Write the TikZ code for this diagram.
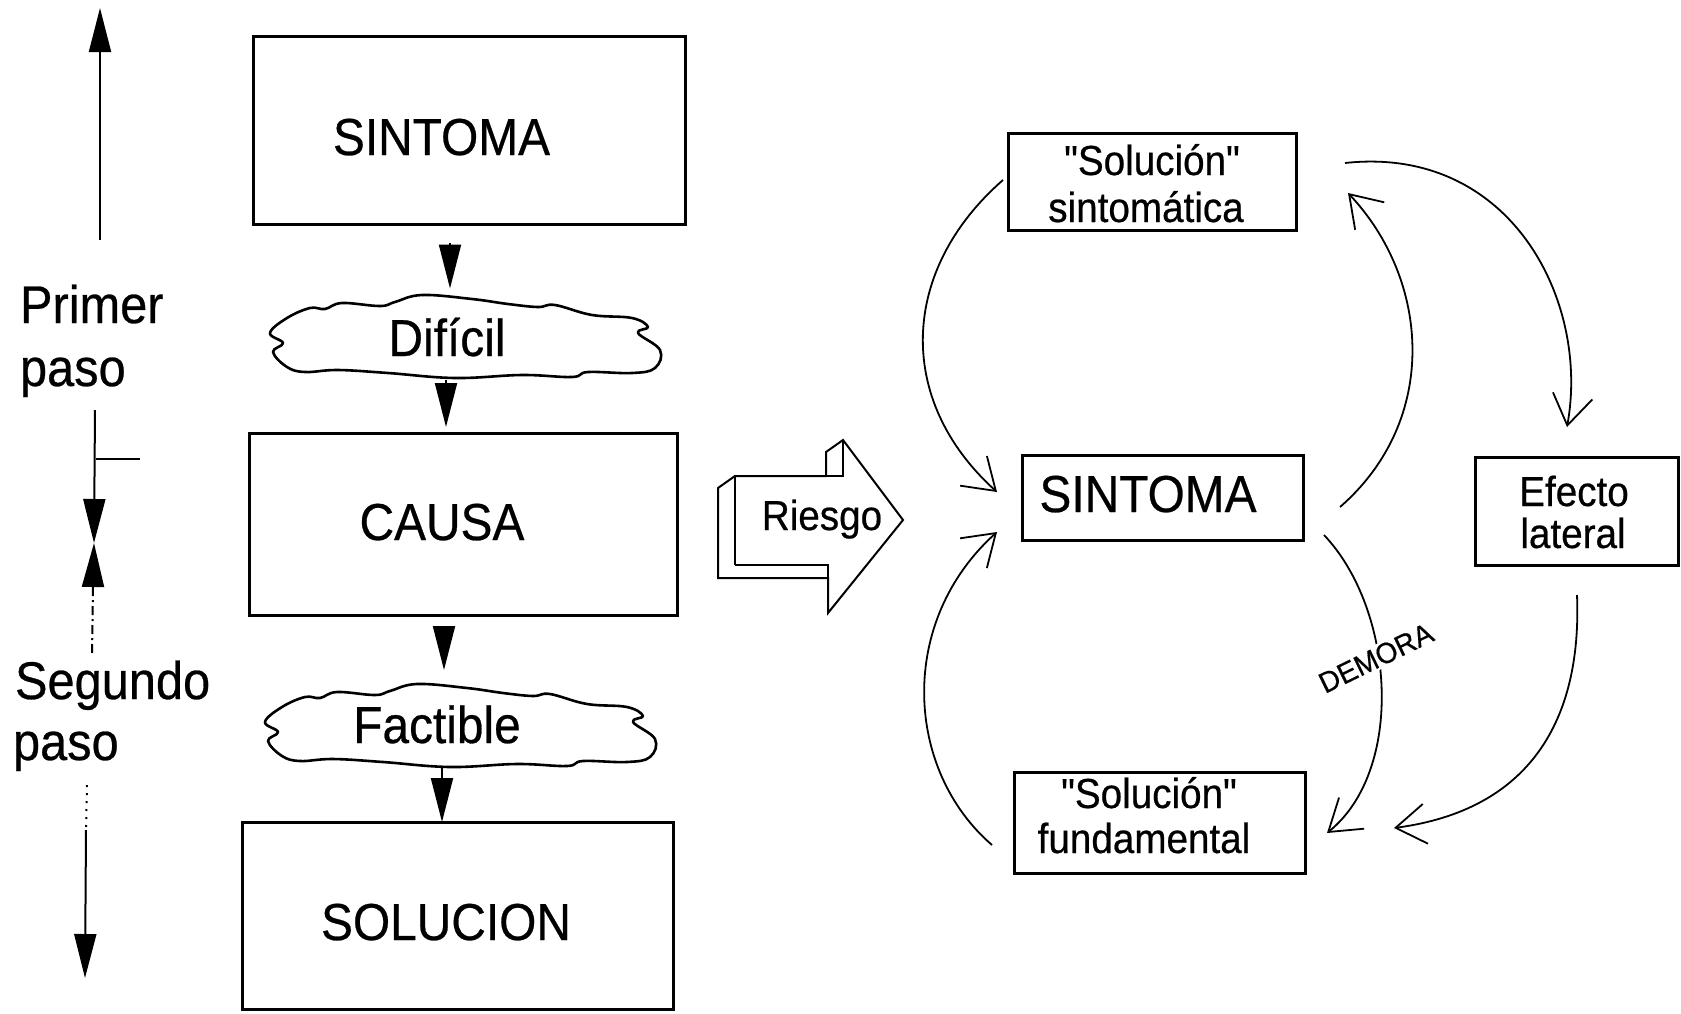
\documentclass[tikz,border=0pt]{standalone}
\usepackage{fontspec}
\usepackage{graphicx}
\setmainfont{Liberation Sans}[FakeStretch=0.92,FakeBold=0.5,Ligatures=TeXOff]
\usetikzlibrary{arrows.meta,calc}

\newcommand\fsBig{\fontsize{52}{60}\selectfont}
\newcommand\fsSide{\fontsize{53}{60}\selectfont}
\newcommand\fsMid{\fontsize{42}{50}\selectfont}
\newcommand\fsSmall{\fontsize{29}{34}\selectfont}

\begin{document}
\begin{tikzpicture}[x=1pt,y=-1pt,
  box/.style={draw,line width=3pt,inner sep=0pt,outer sep=0pt},
  hold/.style={inner sep=0pt,outer sep=0pt},
  txt/.style={inner sep=0pt,outer sep=0pt,anchor=base},
  lbl/.style={inner sep=0pt,outer sep=0pt,anchor=base west},
  tri/.style={line width=2pt,-{Triangle[length=44pt,width=22pt]}},
  axis/.style={line width=2pt},
  fb/.style={line width=1.8pt,-{Straight Barb[length=30pt,width=40pt]}},
  cloudline/.style={draw,line width=2.6pt,line join=round},
  block/.style={line width=2pt,line join=miter}]

\useasboundingbox (0,0) rectangle (1681,1013);

% ---------- left column: steps ----------
\node[box,minimum width=432pt,minimum height=188pt] (sintL) at (469,130) {};
\node[txt] (sintLt) at (441.5,155) {\fsBig SINTOMA};

\node[hold,minimum width=390pt,minimum height=83pt] (dif) at (465,336) {};
\node[hold,minimum width=395pt,minimum height=80pt] (fact) at (460,725) {};

\newcommand\puff{plot[smooth cycle,tension=0.65] coordinates {
  (-195,-3) (-178,-18) (-155,-28) (-140,-27) (-123,-33) (-85,-30) (-70,-34)
  (-43,-41) (7,-37) (43,-32) (73,-29) (90,-31) (127,-21) (167,-18) (183,-9)
  (173,-3) (195,14) (190,32) (167,37) (123,36) (107,41) (57,39) (-10,42)
  (-77,37) (-127,34) (-160,36) (-178,31) (-192,16) (-182,7)}}
\draw[cloudline,shift={(dif.center)}] \puff;
\draw[cloudline,shift={(fact.center)}] \puff;
\node[txt] (difT) at (447,356) {\fsBig Difícil};
\node[txt] (factT) at (437,743) {\fsBig Factible};

\node[box,minimum width=428pt,minimum height=182pt] (causa) at (463,524) {};
\node[txt] (causaT) at (442,540) {\fsBig CAUSA};

\node[box,minimum width=431pt,minimum height=187pt] (sol) at (457.5,915.5) {};
\node[txt] (solT) at (446,940) {\fsBig SOLUCION};

\draw[tri] ($(sintL.south)+(-19,19)$) -- ($(dif.north)+(-15,-6)$);
\draw[tri] ($(dif.south)+(-19,2.5)$) -- ($(causa.north)+(-17,-6)$);
\draw[tri] ($(causa.south)+(-19,12)$) -- ($(fact.north)+(-16,-15)$);
\draw[tri] ($(fact.south)+(-18,3)$) -- ($(sol.north)+(-15.5,0)$);

% ---------- left axis ----------
\node[lbl] (primer) at (20,323) {\fsSide Primer};
\node[lbl] (paso1) at (20,386) {\fsSide paso};
\node[lbl] (segundo) at (15,699) {\fsSide Segundo};
\node[lbl] (paso2) at (13,760) {\fsSide paso};

\coordinate (axTop) at (100,8);
\coordinate (axA) at (100,240);
\coordinate (axB) at (95,410);
\coordinate (axMid) at (94,543);
\coordinate (axC) at (93,587);
\coordinate (axD) at (92,656);
\coordinate (axE) at (87,785);
\coordinate (axF) at (86,830);
\coordinate (axBot) at (85,978);
\coordinate (tickA) at (96,459);
\coordinate (tickB) at (140,459);

\draw[tri] (axA) -- (axTop);
\draw[tri] (axB) -- (axMid);
\draw[tri] (axC) -- (axMid);
\draw[axis] (tickA) -- (tickB);
\draw[axis,dash pattern=on 9pt off 4pt on 2pt off 4pt] (axC) -- (axD);
\draw[axis,dash pattern=on 2pt off 6pt] (axE) -- (axF);
\draw[tri] (axF) -- (axBot);

% ---------- block arrow ----------
\draw[block,fill=white] (718,488) -- (735,476) -- (826,476) -- (826,452) -- (843,440)
  -- (903,520) -- (828,613) -- (828,578) -- (718,578) -- cycle;
\draw[block] (735,565) -- (735,476) -- (843,476) -- (843,440);
\draw[block] (735,565) -- (828,565) -- (828,578);
\node[txt] (riesgo) at (822,530) {\fsMid Riesgo};

% ---------- right diagram ----------
\node[box,minimum width=288pt,minimum height=97pt] (sintom) at (1152,181.5) {};
\node[txt] (sintomA) at (1152,175) {\fsMid "Solución"};
\node[txt] (sintomB) at (1146,222) {\fsMid sintomática};

\node[box,minimum width=281pt,minimum height=85pt] (rsint) at (1162.5,497.5) {};
\node[txt] (rsintT) at (1148,512) {\fsBig SINTOMA};

\node[box,minimum width=203pt,minimum height=108pt] (efecto) at (1576.5,511) {};
\node[txt] (efectoA) at (1574,506) {\fsMid Efecto};
\node[txt] (efectoB) at (1573,548) {\fsMid lateral};

\node[box,minimum width=291pt,minimum height=101pt] (fund) at (1159.5,822.5) {};
\node[txt] (fundA) at (1149,808) {\fsMid "Solución"};
\node[txt] (fundB) at (1144,853) {\fsMid fundamental};

% balancing loop (left) and reinforcing loops (right)
\draw[fb] ($(sintom.west)+(-5,-1.5)$) .. controls (900,270) and (895,400) .. ($(rsint.west)+(-25,-5.5)$);
\draw[fb] ($(fund.west)+(-22,22.5)$) .. controls (905,770) and (897,622) .. ($(rsint.west)+(-25,34.5)$);
\draw[fb] ($(rsint.east)+(37,9.5)$) .. controls (1440,420) and (1430,280) .. ($(sintom.east)+(52,11.5)$);
\draw[fb] ($(rsint.east)+(21,37.5)$) .. controls (1395,610) and (1405,770) .. ($(fund.east)+(22,10.5)$);
\draw[fb] ($(sintom.east)+(49,-18.5)$) .. controls (1510,145) and (1590,300) .. ($(efecto.north)+(-9.5,-30)$);
\draw[fb] ($(efecto.south)+(0.5,30)$) .. controls (1582,720) and (1530,810) .. ($(fund.east)+(89,5.5)$);

\node[fill=white,inner sep=2pt,rotate=26] (demora) at (1376,658) {\fsSmall\scalebox{1.05}[1]{DEMORA}};

\end{tikzpicture}
\end{document}
